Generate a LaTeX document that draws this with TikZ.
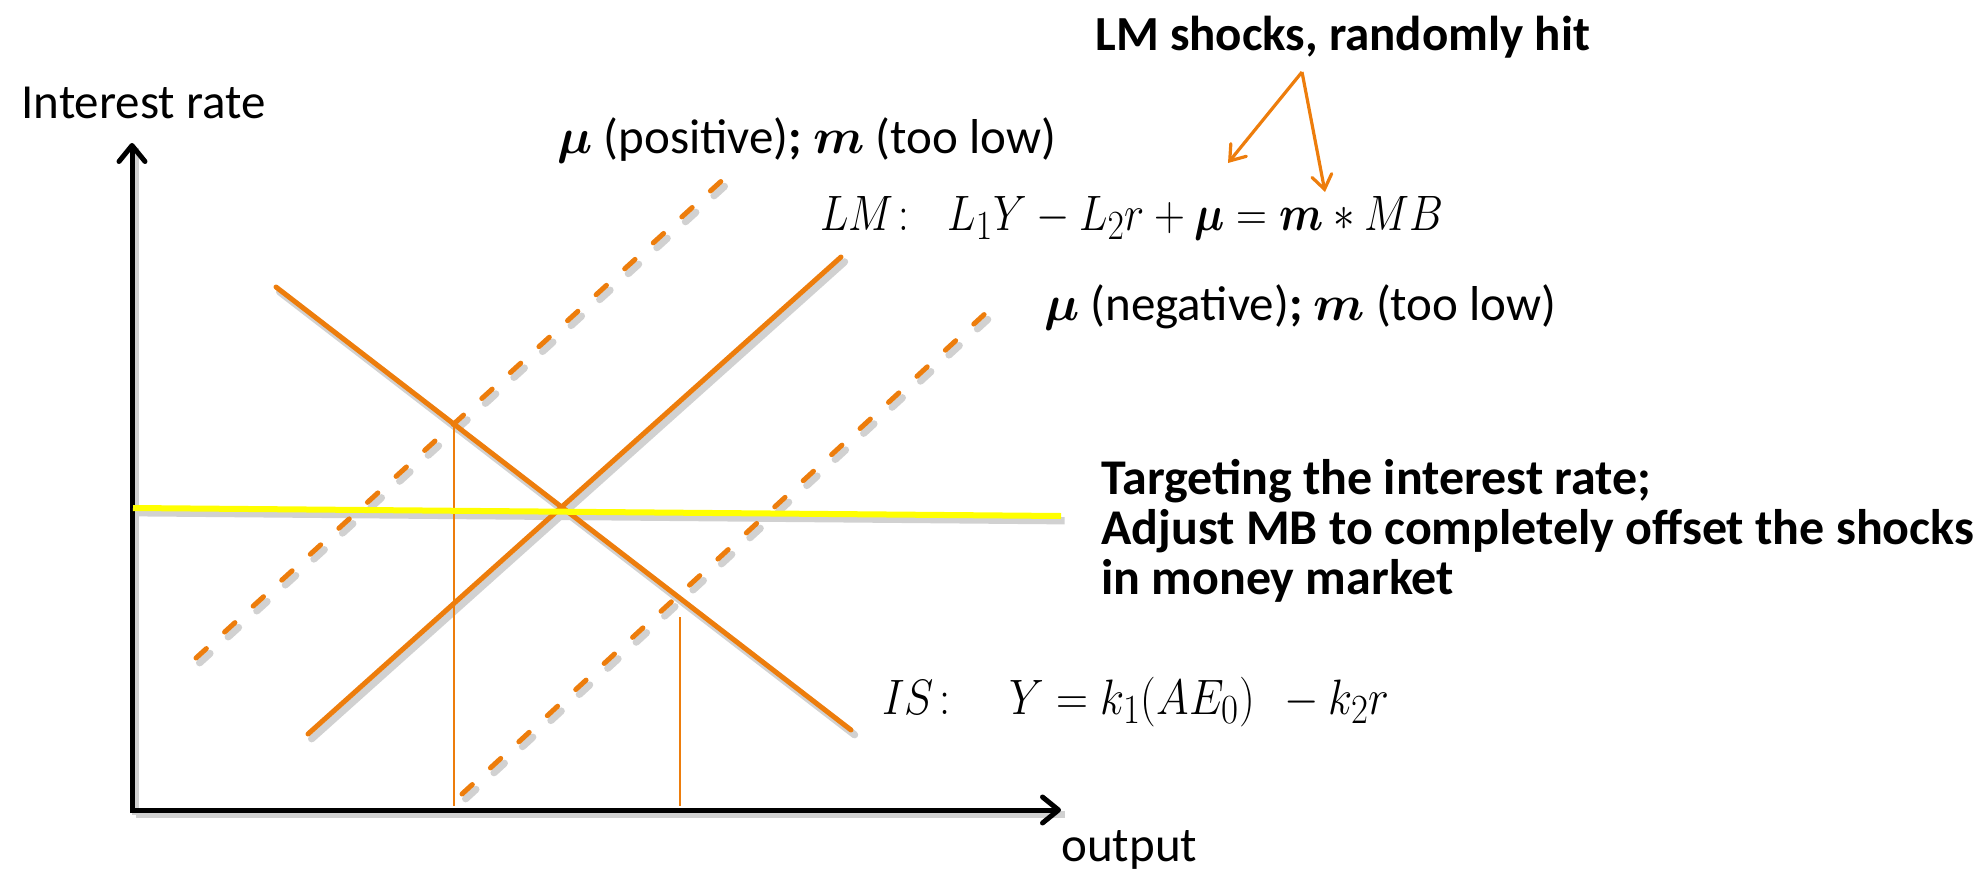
\documentclass[tikz,border=0pt]{standalone}
\usepackage{amsmath}
\usepackage{bm}
\usepackage{graphicx}
\usepackage{fontspec}
\setmainfont{Carlito}
\usetikzlibrary{arrows.meta,calc}
\definecolor{org}{RGB}{237,125,12}
\definecolor{yel}{RGB}{255,255,0}
\begin{document}
\begin{tikzpicture}[x=0.5pt,y=-0.5pt,
  every node/.style={inner sep=0pt, font=\fontsize{24.5}{26.5}\selectfont},
  eqfont/.style={font=\fontsize{24.88}{26}\selectfont},
  curve/.style={draw=org, line width=2.5pt, line cap=round},
  dashcurve/.style={curve, dash pattern=on 7pt off 12.3pt},
  shade/.style={draw=black!18, line width=3.6pt, line cap=round, transform canvas={shift={(1.8pt,-2.4pt)}}},
  dshade/.style={shade, dash pattern=on 7pt off 12.3pt},
  axis/.style={draw=black, line width=2.5pt, -{Straight Barb[length=8pt,width=13pt,line cap=round,line join=round]}},
  thin/.style={draw=org, line width=0.8pt},
  shockarrow/.style={draw=org, line width=1.6pt, -{Straight Barb[length=7pt,width=10pt,line cap=round]}},
  rate/.style={draw=yel, line width=3pt}
]
\useasboundingbox (0,0) rectangle (1985,872);

% coordinates
\coordinate (O) at (132,810);
\coordinate (ytop) at (132,143);
\coordinate (xend) at (1061,810);
\coordinate (is1) at (276,287);
\coordinate (is2) at (851,730);
\coordinate (lm1) at (308,734);
\coordinate (lm2) at (841,257);
\coordinate (up1) at (196,658);
\coordinate (up2) at (728,175);
\coordinate (dn1) at (462,794);
\coordinate (dn2) at (1000,300);
\coordinate (r1) at (133,508);
\coordinate (r2) at (1061,516);
\coordinate (p1) at (intersection of is1--is2 and up1--up2);
\coordinate (p2top) at (680,617);
\coordinate (p2bot) at (680,806);

% shadows
\draw[shade] (is1) -- (is2);
\draw[shade] (lm1) -- (lm2);
\draw[dshade] (up1) -- (up2);
\draw[dshade] (dn1) -- (dn2);
\draw[shade, line cap=butt] (r1) -- (r2);
\draw[shade, line cap=butt] (O) -- (xend);
\draw[shade, line cap=butt] (O) -- (ytop);

% axes
\draw[axis] ($(O)+(0,2)$) -- (ytop);
\draw[axis] ($(O)+(-2,0)$) -- (xend);

% thin verticals
\draw[thin] (p1) -- ($(p1 |- O)+(0,-4)$);
\draw[thin] (p2top) -- (p2bot);

% curves
\draw[dashcurve] (up1) -- (up2);
\draw[dashcurve] (dn1) -- (dn2);
\draw[curve] (lm1) -- (lm2);
\draw[curve] (is1) -- (is2);
\draw[rate] (r1) -- (r2);

% texts
\node[anchor=base west] (ylab) at (21,119) {Interest rate};
\node[anchor=base west] (xlab) at (1061,861) {output};
\node[anchor=base west] (pos) at (557,154) {$\bm{\mu}$ (positive)\textbf{;} $\bm{m}$ (too low)};
\node[anchor=base west, eqfont] (lmeq) at (820,230) {\scalebox{0.86}[1]{$LM\colon\;\; L_1Y - L_2r + \bm{\mu} = \bm{m} \ast MB$}};
\node[anchor=base west] (neg) at (1044,320) {$\bm{\mu}$ (negative)\textbf{;} $\bm{m}$ (too low)};
\node[anchor=base west, font=\fontsize{24.5}{26.5}\selectfont\bfseries] (shock) at (1095,51) {LM shocks, randomly hit};
\node[anchor=base west, align=left, font=\fontsize{25}{25}\selectfont\bfseries] (target) at (1101,594) {Targeting the interest rate;\\Adjust MB to completely offset the shocks\\in money market};
\node[anchor=base west, eqfont] (iseq) at (882,714) {\scalebox{0.89}[1]{$IS\colon\quad Y = k_1(AE_0)\;\, - k_2r$}};

% shock arrows
\coordinate (sa) at (1302,72);
\coordinate (ta1) at (1228,163);
\coordinate (ta2) at (1325,192);
\draw[shockarrow] (sa) -- (ta1);
\draw[shockarrow] (sa) -- (ta2);
\end{tikzpicture}
\end{document}
